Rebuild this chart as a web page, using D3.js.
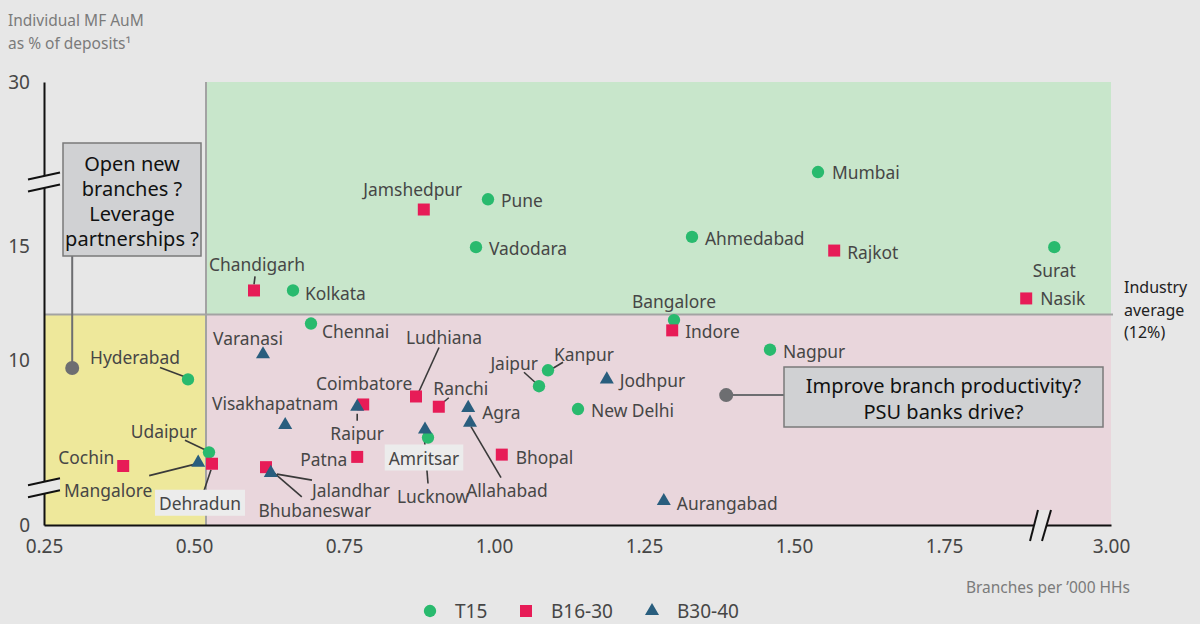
<!DOCTYPE html>
<html><head><meta charset="utf-8">
<script src="https://cdn.jsdelivr.net/npm/d3@7"></script>
<style>
html,body{margin:0;padding:0;background:#e7e7e7;}
svg{display:block;font-family:"Noto Sans",sans-serif;}
</style>
</head><body>
<svg id="chart" width="1200" height="624"></svg>
<script>
// ---------------- DATA ----------------
const seriesNames = ["T15", "B16-30", "B30-40"];

const t15 = [
  {city:"Mumbai", x:1.54, y:18.7},
  {city:"Pune", x:0.99, y:17.05},
  {city:"Vadodara", x:0.97, y:14.95},
  {city:"Ahmedabad", x:1.33, y:15.4},
  {city:"Surat", x:2.19, y:14.95},
  {city:"Kolkata", x:0.665, y:13.05},
  {city:"Bangalore", x:1.30, y:11.75},
  {city:"Chennai", x:0.695, y:11.6},
  {city:"Hyderabad", x:0.49, y:9.15},
  {city:"Nagpur", x:1.46, y:10.45},
  {city:"Kanpur", x:1.09, y:9.55},
  {city:"Jaipur", x:1.075, y:8.85},
  {city:"New Delhi", x:1.14, y:7.85},
  {city:"Udaipur", x:0.525, y:5.95},
  {city:"Amritsar", x:0.89, y:6.6}
];

const b16_30 = [
  {city:"Jamshedpur", x:0.883, y:16.6},
  {city:"Rajkot", x:1.567, y:14.8},
  {city:"Nasik", x:1.887, y:12.7},
  {city:"Chandigarh", x:0.60, y:13.05},
  {city:"Indore", x:1.297, y:11.3},
  {city:"Ludhiana", x:0.87, y:8.4},
  {city:"Coimbatore", x:0.782, y:8.05},
  {city:"Ranchi", x:0.908, y:7.95},
  {city:"Bhopal", x:1.013, y:5.85},
  {city:"Patna", x:0.772, y:5.75},
  {city:"Cochin", x:0.382, y:5.35},
  {city:"Dehradun", x:0.53, y:5.45},
  {city:"Jalandhar", x:0.62, y:5.3}
];

const b30_40 = [
  {city:"Varanasi", x:0.615, y:10.25},
  {city:"Jodhpur", x:1.188, y:9.15},
  {city:"Visakhapatnam", x:0.652, y:7.15},
  {city:"Raipur", x:0.772, y:7.95},
  {city:"Agra", x:0.957, y:7.9},
  {city:"Allahabad", x:0.96, y:7.25},
  {city:"Lucknow", x:0.885, y:6.95},
  {city:"Mangalore", x:0.507, y:5.5},
  {city:"Bhubaneswar", x:0.628, y:5.05},
  {city:"Aurangabad", x:1.283, y:3.4}
];

const xTicks = [0.25, 0.50, 0.75, 1.00, 1.25, 1.50, 1.75, 3.00];
const yTicks = [0, 10, 15, 30];
const industryAverage = 12;      // %
const branchThreshold = 0.52;    // quadrant split on x
const xTitle = "Branches per \u2019000 HHs";
const yTitle = ["Individual MF AuM", "as % of deposits\u00B9"];
const industryText = ["Industry", "average", "(12%)"];
const annotation1 = {x:0.297, y:9.65, lines:["Open new", "branches ?", "Leverage", "partnerships ?"]};
const annotation2 = {x:1.387, y:8.46, lines:["Improve branch productivity?", "PSU banks drive?"]};

// ---------------- LAYOUT (label placement) ----------------
const labelLayout = {
  "Mumbai":[14,0,"start"], "Pune":[13,1,"start"], "Vadodara":[13,1,"start"],
  "Ahmedabad":[13,1,"start"], "Surat":[0,23,"middle"], "Kolkata":[12,3,"start"],
  "Bangalore":[0,-19,"middle"], "Chennai":[11,7,"start"], "Hyderabad":[-8,-22,"end"],
  "Nagpur":[13,1,"start"], "Kanpur":[6,-16,"start"], "Jaipur":[-1,-23,"end"],
  "New Delhi":[13,1,"start"], "Udaipur":[-12,-21,"end"], "Amritsar":[-4,20,"middle"],
  "Jamshedpur":[-11,-21,"middle"], "Rajkot":[13,1,"start"], "Nasik":[14,0,"start"],
  "Chandigarh":[3,-26,"middle"], "Indore":[13,1,"start"], "Ludhiana":[28,-59,"middle"],
  "Coimbatore":[1,-21,"middle"], "Ranchi":[22,-19,"middle"], "Bhopal":[14,2,"start"],
  "Patna":[-10,2,"end"], "Cochin":[-9,-9,"end"], "Dehradun":[-12,39,"middle"],
  "Jalandhar":[46,23,"start"], "Varanasi":[-15,-16,"middle"], "Jodhpur":[13,1,"start"],
  "Visakhapatnam":[-10,-22,"middle"], "Raipur":[0,26,"middle"], "Agra":[14,4,"start"],
  "Allahabad":[37,67,"middle"], "Lucknow":[8,66,"middle"], "Mangalore":[-90,27,"middle"],
  "Bhubaneswar":[44,37,"middle"], "Aurangabad":[13,2,"start"]
};
const leaders = {
  "Hyderabad":[-28,-12,-4,-3], "Kanpur":[15,-8,5,-2], "Jaipur":[-15,-14,-4,-4],
  "Udaipur":[-24,-12,-3,-2], "Chandigarh":[1,-14,0,-6], "Ludhiana":[23,-49,3,-5],
  "Ranchi":[10,-9,4,-4], "Dehradun":[-8,27,-1,6], "Jalandhar":[11,7,46,13],
  "Raipur":[0,7,0,14], "Allahabad":[1,4,31,55], "Lucknow":[-1,4,3,54],
  "Mangalore":[-49,13,-1,1], "Bhubaneswar":[2,-1,31,24]
};
const boxedLabels = ["Amritsar", "Dehradun"];

// ---------------- STYLE ----------------
const C = {
  bg:"#e7e7e7", green:"#c8e6cb", pink:"#e9d6dc", yellow:"#eee89b",
  t15:"#29ba6e", b16:"#e71c57", b30:"#295e7e", text:"#464646",
  grid:"#a3a3a3", box:"#d0d1d3", boxStroke:"#7a7a7a", dot:"#6d6e71"
};

// ---------------- SCALES ----------------
const x = d3.scaleLinear().domain([0.25, 1.9, 3.0]).range([44, 1034, 1111]);
const y = d3.scaleLinear().domain([0, 4, 18, 30]).range([525, 496.8, 177.6, 82]);

const svg = d3.select("#chart");
svg.append("rect").attr("width",1200).attr("height",624).attr("fill",C.bg);

// quadrant areas
const xL = x(0.25), xR = x(3.0), xT = x(branchThreshold);
const yTop = y(30), yBot = y(0), yAvg = y(industryAverage);
svg.append("rect").attr("x",xT).attr("y",yTop).attr("width",xR-xT).attr("height",yAvg-yTop).attr("fill",C.green);
svg.append("rect").attr("x",xT).attr("y",yAvg).attr("width",xR-xT).attr("height",yBot-yAvg).attr("fill",C.pink);
svg.append("rect").attr("x",xL).attr("y",yAvg).attr("width",xT-xL).attr("height",yBot-yAvg).attr("fill",C.yellow);

// threshold lines
svg.append("line").attr("x1",xT).attr("x2",xT).attr("y1",yTop).attr("y2",yBot)
  .attr("stroke",C.grid).attr("stroke-width",2);
svg.append("line").attr("x1",xL).attr("x2",xR+2).attr("y1",yAvg).attr("y2",yAvg)
  .attr("stroke",C.grid).attr("stroke-width",2);

// axes
const yAxis = svg.append("g").attr("transform",`translate(${xL},0)`)
  .call(d3.axisLeft(y).tickValues(yTicks).tickSize(0).tickPadding(14).tickFormat(d3.format("d")));
yAxis.select(".domain").attr("stroke","#111").attr("stroke-width",2);
yAxis.selectAll("text").attr("font-size",19).attr("fill",C.text).attr("font-family","Noto Sans");

const xAxis = svg.append("g").attr("transform",`translate(0,${yBot})`)
  .call(d3.axisBottom(x).tickValues(xTicks).tickSize(0).tickPadding(15).tickFormat(d3.format(".2f")));
xAxis.select(".domain").attr("stroke","#111").attr("stroke-width",2);
xAxis.selectAll("text").attr("font-size",19).attr("fill",C.text).attr("font-family","Noto Sans");

// axis breaks
function yBreak(yc){
  const p = [[28,yc+3.5],[60,yc-3.5],[60,yc+8.5],[28,yc+15.5]];
  svg.append("polygon").attr("points",p.map(d=>d.join(",")).join(" ")).attr("fill",C.bg);
  svg.append("line").attr("x1",28).attr("y1",yc+3.5).attr("x2",60).attr("y2",yc-3.5).attr("stroke","#111").attr("stroke-width",2);
  svg.append("line").attr("x1",28).attr("y1",yc+15.5).attr("x2",60).attr("y2",yc+8.5).attr("stroke","#111").attr("stroke-width",2);
}
yBreak(y(18)-1.5);
yBreak(y(4)-15);
(function(){
  const xc = x(1.9);
  const p = [[xc-4,541],[xc+4,510],[xc+17,510],[xc+8,541]];
  svg.append("polygon").attr("points",p.map(d=>d.join(",")).join(" ")).attr("fill",C.bg);
  svg.append("line").attr("x1",xc-4).attr("y1",541).attr("x2",xc+4).attr("y2",510).attr("stroke","#111").attr("stroke-width",2);
  svg.append("line").attr("x1",xc+8).attr("y1",541).attr("x2",xc+17).attr("y2",510).attr("stroke","#111").attr("stroke-width",2);
})();

// titles
const yt = svg.append("text").attr("x",8).attr("y",26).attr("font-size",15.5).attr("fill","#7b7b7b");
yTitle.forEach((t,i)=>yt.append("tspan").attr("x",8).attr("dy",i?23:0).text(t));
svg.append("text").attr("x",1130).attr("y",593).attr("text-anchor","end").attr("font-size",15.5)
  .attr("fill","#7b7b7b").text(xTitle);
const it = svg.append("text").attr("x",1124).attr("y",293).attr("font-size",16).attr("fill","#222");
industryText.forEach((t,i)=>it.append("tspan").attr("x",1124).attr("dy",i?22.5:0).text(t));

// annotations
function annotate(a, box, lineY, connectorFromBox){
  const dx = x(a.x), dy = y(a.y);
  svg.append("line").attr("x1",dx).attr("y1",dy).attr("x2",connectorFromBox[0]).attr("y2",connectorFromBox[1])
    .attr("stroke",C.dot).attr("stroke-width",2);
  svg.append("circle").attr("cx",dx).attr("cy",dy).attr("r",7).attr("fill",C.dot);
  svg.append("rect").attr("x",box[0]).attr("y",box[1]).attr("width",box[2]).attr("height",box[3])
    .attr("fill",C.box).attr("stroke",C.boxStroke).attr("stroke-width",1.5);
  const cx = box[0]+box[2]/2;
  a.lines.forEach((t,i)=>svg.append("text").attr("x",cx).attr("y",lineY[i]).attr("text-anchor","middle")
    .attr("dominant-baseline","central").attr("font-size",20).attr("fill","#111").text(t));
}
annotate(annotation1, [63,143,138,113], [163,188,213,238], [x(annotation1.x),256]);
annotate(annotation2, [784,367,319,60], [385,411], [784,y(annotation2.y)]);

// data
const all = [
  {name:seriesNames[0], data:t15, color:C.t15, sym:d3.symbolCircle, size:120},
  {name:seriesNames[1], data:b16_30, color:C.b16, sym:d3.symbolSquare, size:144},
  {name:seriesNames[2], data:b30_40, color:C.b30, sym:d3.symbolTriangle, size:85}
];

// leaders
const gLead = svg.append("g");
all.forEach(s=>s.data.forEach(d=>{
  const l = leaders[d.city]; if(!l) return;
  const px = x(d.x), py = y(d.y);
  gLead.append("line").attr("x1",px+l[0]).attr("y1",py+l[1]).attr("x2",px+l[2]).attr("y2",py+l[3])
    .attr("stroke","#3a3a3a").attr("stroke-width",1.6);
}));

// points
all.forEach(s=>{
  svg.append("g").selectAll("path").data(s.data).join("path")
    .attr("transform",d=>`translate(${x(d.x)},${y(d.y)})`)
    .attr("d",d3.symbol().type(s.sym).size(s.size)())
    .attr("fill",s.color);
});

// labels
const gLab = svg.append("g");
all.forEach(s=>s.data.forEach(d=>{
  const L = labelLayout[d.city];
  const t = gLab.append("text").attr("x",x(d.x)+L[0]).attr("y",y(d.y)+L[1])
    .attr("text-anchor",L[2]).attr("dominant-baseline","central")
    .attr("font-size",17.4).attr("fill",C.text).text(d.city);
  if(boxedLabels.includes(d.city)){
    const b = t.node().getBBox();
    gLab.insert("rect","text").attr("x",b.x-4).attr("y",b.y-1).attr("width",b.width+8).attr("height",b.height+2)
      .attr("fill","#ececec");
  }
}));

// legend
const legendX = [430, 526, 652];
all.forEach((s,i)=>{
  svg.append("path").attr("transform",`translate(${legendX[i]},611)`)
    .attr("d",d3.symbol().type(s.sym).size(s.size)()).attr("fill",s.color);
  svg.append("text").attr("x",legendX[i]+25).attr("y",611).attr("dominant-baseline","central")
    .attr("font-size",19).attr("fill",C.text).text(s.name);
});
</script>
</body></html>
